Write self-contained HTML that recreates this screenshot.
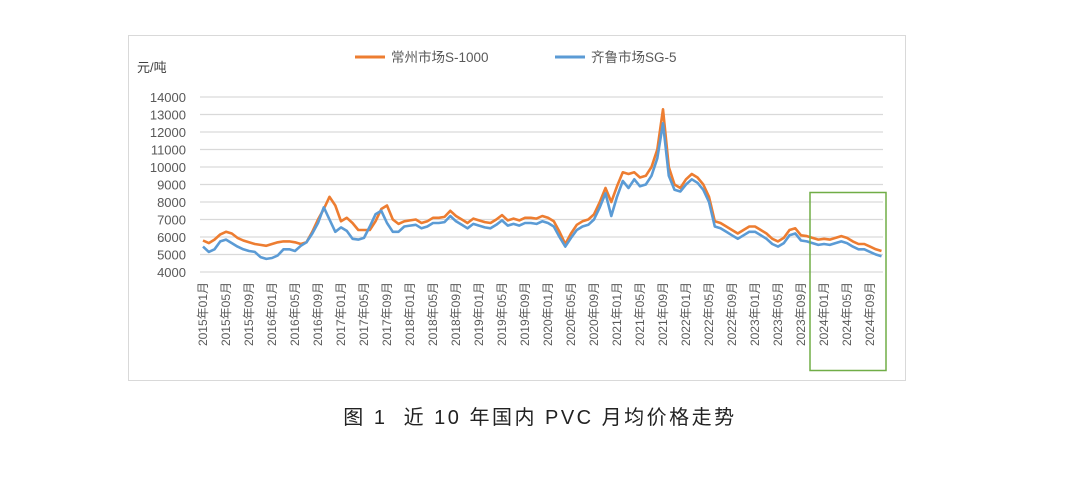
<!DOCTYPE html>
<html><head><meta charset="utf-8">
<style>
body{margin:0;background:#fff;width:1080px;height:491px;overflow:hidden;font-family:"Liberation Sans","Noto Sans CJK SC",sans-serif;}
.cap{position:absolute;left:0;width:1080px;top:401px;text-align:center;font-size:20px;color:#222;letter-spacing:2.5px;}
</style></head><body>
<svg id="s" width="1080" height="491" style="position:absolute;left:0;top:0" font-family="Liberation Sans, Noto Sans CJK SC, sans-serif"></svg>
<div class="cap">图 1&nbsp; 近 10 年国内 PVC 月均价格走势</div>
<script>
var o=[5.8,5.65,5.85,6.15,6.3,6.2,5.95,5.8,5.7,5.6,5.55,5.5,
5.6,5.7,5.75,5.75,5.7,5.6,5.7,6.3,7.0,7.6,8.3,
7.8,6.9,7.1,6.8,6.4,6.4,6.4,6.9,7.6,7.8,7.0,6.75,
6.9,6.95,7.0,6.8,6.9,7.1,7.1,7.15,7.5,7.2,7.0,6.8,
7.05,6.95,6.85,6.8,7.0,7.25,6.95,7.05,6.95,7.1,7.1,7.05,
7.2,7.1,6.9,6.3,5.6,6.2,6.7,6.9,7.0,7.3,8.0,8.8,
8.0,8.9,9.7,9.6,9.7,9.4,9.5,10.0,11.0,13.3,10.0,9.0,
8.8,9.3,9.6,9.4,9.0,8.3,6.9,6.8,6.6,6.4,6.2,6.4,
6.6,6.6,6.4,6.2,5.9,5.75,5.95,6.4,6.5,6.1,6.05,5.95,
5.85,5.9,5.85,5.95,6.05,5.95,5.75,5.6,5.6,5.45,5.3,5.2];
var b=[5.45,5.15,5.3,5.75,5.85,5.65,5.45,5.3,5.2,5.15,4.85,4.75,
4.8,4.95,5.3,5.3,5.2,5.5,5.7,6.2,6.8,7.7,7.0,
6.3,6.55,6.35,5.9,5.85,5.95,6.6,7.3,7.5,6.8,6.3,6.3];
for(var i=b.length;i<o.length;i++){var d=0.3;if(i>=71&&i<=83)d=0.5;b.push(o[i]-d);}
b[80]=12.5;b[81]=9.5;b[82]=8.7;b[83]=8.6;b[75]=9.3;b[74]=8.8;b[72]=8.3;b[71]=7.2;b[63]=5.45;b[64]=5.95;
function X(i){return 203+5.75*i;}function Y(v){return 272-17.5*(v-4);}
var s='<rect x="128.5" y="35.5" width="777" height="345" fill="none" stroke="#d9d9d9"/>';
for(var k=4;k<=14;k++){var y=Y(k);s+='<line x1="200" x2="883" y1="'+y+'" y2="'+y+'" stroke="#d9d9d9" stroke-width="1.3"/>';
s+='<text x="186" y="'+(y+5)+'" text-anchor="end" font-size="13" fill="#595959">'+(k*1000)+'</text>';}
s+='<text x="137" y="72" font-size="13" fill="#404040">元/吨</text>';
for(var i=0;i<117;i+=4){var yr=2015+Math.floor(i/12),m=i%12+1;var x=X(i)+4;
s+='<text transform="translate('+x+',282) rotate(-90)" text-anchor="end" font-size="12" fill="#595959">'+yr+'年'+(m<10?'0':'')+m+'月</text>';}
function p(a,c){var d='';for(var i=0;i<a.length;i++)d+=(i?'L':'M')+X(i).toFixed(1)+','+Y(a[i]).toFixed(1);return '<path d="'+d+'" fill="none" stroke="'+c+'" stroke-width="2.6" stroke-linejoin="round"/>';}
s+=p(o,'#ed7d31')+p(b,'#5b9bd5');
s+='<rect x="810" y="192.5" width="76" height="178" fill="none" stroke="#70ad47" stroke-width="1.5"/>';
s+='<line x1="355" x2="385" y1="57" y2="57" stroke="#ed7d31" stroke-width="3"/><text x="391" y="62" font-size="13.5" fill="#595959">常州市场S-1000</text>';
s+='<line x1="555" x2="585" y1="57" y2="57" stroke="#5b9bd5" stroke-width="3"/><text x="591" y="62" font-size="13.5" fill="#595959">齐鲁市场SG-5</text>';
document.getElementById('s').innerHTML=s;
</script>
</body></html>
